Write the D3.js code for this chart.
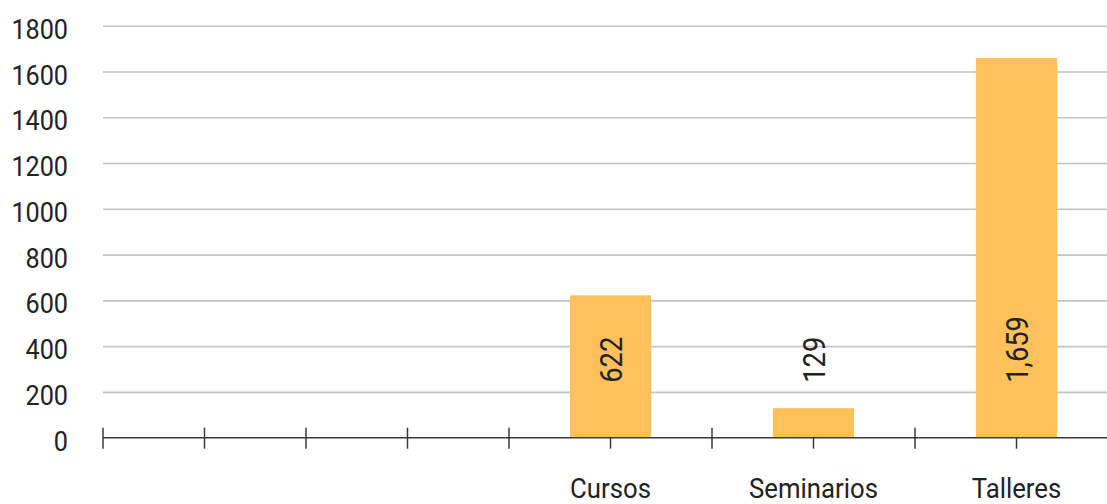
<!DOCTYPE html>
<html>
<head>
<meta charset="utf-8">
<script src="https://cdn.jsdelivr.net/npm/d3@7"></script>
<style>
  body { margin: 0; background: #fff; }
  text { font-family: Roboto, "Noto Sans", sans-serif; fill: #222; }
</style>
</head>
<body>
<div id="chart"></div>
<script>
// Chart data
const categories = ["", "", "Cursos", "Seminarios", "Talleres"];
const values = [null, null, 622, 129, 1659];
const valueLabels = ["", "", "622", "129", "1,659"];
const yTicks = [0, 200, 400, 600, 800, 1000, 1200, 1400, 1600, 1800];

const W = 1107, H = 504;
const marginLeft = 103, plotTop = 25.7, plotBottom = 437.7;
const squeeze = 0.9; // narrow font look

const svg = d3.select("#chart").append("svg")
    .attr("width", W)
    .attr("height", H);

const x = d3.scaleBand()
    .domain(d3.range(categories.length))
    .range([marginLeft, 1118])
    .padding(0);

const y = d3.scaleLinear()
    .domain([0, 1800])
    .range([plotBottom, plotTop]);

// Gridlines
svg.append("g")
    .attr("transform", `translate(${marginLeft},0)`)
    .call(d3.axisLeft(y).tickValues(yTicks.filter(v => v > 0)).tickSize(-(W - marginLeft)).tickFormat(""))
    .call(g => g.select(".domain").remove())
    .call(g => g.selectAll("line").attr("stroke", "#c2c2c2").attr("stroke-width", 1.6));

// Y labels
svg.append("g")
    .attr("transform", `translate(${marginLeft},0)`)
    .call(d3.axisLeft(y).tickValues(yTicks).tickSize(0).tickPadding(35).tickFormat(d => String(d)))
    .call(g => g.select(".domain").remove())
    .call(g => g.selectAll("text")
        .attr("font-size", 28)
        .attr("x", -35 / squeeze)
        .attr("dy", "0.45em")
        .attr("transform", `scale(${squeeze},1)`)
        .attr("font-family", "Roboto")
        .attr("fill", "#222"));

// Bars
const bw = x.bandwidth() * 0.4;
const data = categories.map((c, i) => ({ i, c, v: values[i], label: valueLabels[i] }))
    .filter(d => d.v != null);

svg.selectAll("rect.bar")
    .data(data)
    .join("rect")
    .attr("class", "bar")
    .attr("x", d => x(d.i) + x.bandwidth() / 2 - bw / 2)
    .attr("y", d => y(d.v))
    .attr("width", bw)
    .attr("height", d => y(0) - y(d.v))
    .attr("fill", "#fdc05a");

// X axis line and ticks
svg.append("line")
    .attr("x1", marginLeft).attr("x2", W)
    .attr("y1", y(0)).attr("y2", y(0))
    .attr("stroke", "#3a3a3a").attr("stroke-width", 1.5);

const ticks = [];
categories.forEach((c, i) => {
    ticks.push({ pos: x(i), cross: true });
    ticks.push({ pos: x(i) + x.bandwidth() / 2, cross: c === "" });
});
svg.selectAll("line.xtick")
    .data(ticks)
    .join("line")
    .attr("class", "xtick")
    .attr("x1", d => d.pos).attr("x2", d => d.pos)
    .attr("y1", d => d.cross ? y(0) - 10 : y(0))
    .attr("y2", y(0) + 11)
    .attr("stroke", "#3a3a3a").attr("stroke-width", 1.5);

// Category labels
svg.selectAll("text.cat")
    .data(data)
    .join("text")
    .attr("class", "cat")
    .attr("transform", d => `translate(${x(d.i) + x.bandwidth() / 2},${y(0) + 60}) scale(0.92,1)`)
    .attr("text-anchor", "middle")
    .attr("font-size", 28)
    .text(d => d.c);

// Value labels (rotated)
const labelBase = 240;
svg.selectAll("text.val")
    .data(data)
    .join("text")
    .attr("class", "val")
    .attr("transform", d => `translate(${x(d.i) + x.bandwidth() / 2},${y(labelBase)}) rotate(-90) scale(0.88,1)`)
    .attr("text-anchor", "start")
    .attr("dy", "0.36em")
    .attr("font-size", 31)
    .text(d => d.label);
</script>
</body>
</html>
